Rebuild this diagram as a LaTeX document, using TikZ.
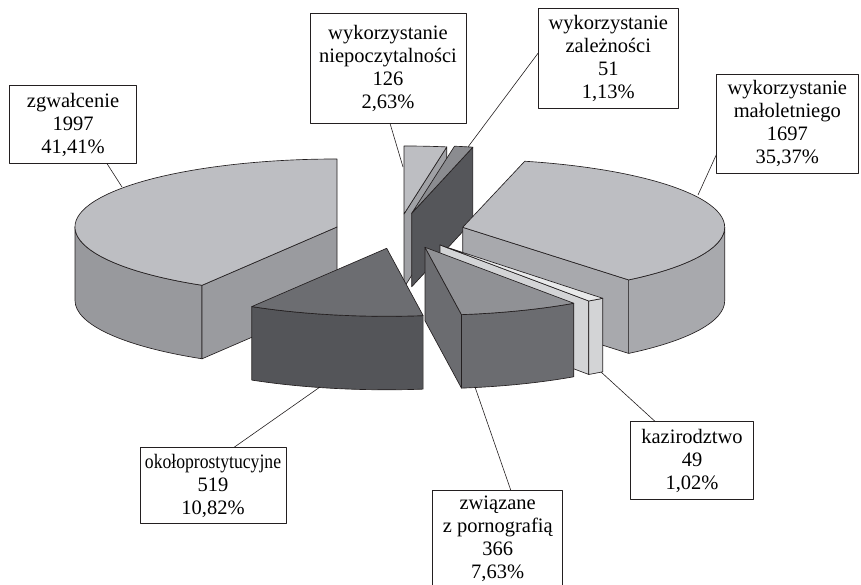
\documentclass[tikz,border=0pt]{standalone}
\usepackage{fontspec}
\setmainfont{Liberation Serif}
\usetikzlibrary{calc}
\definecolor{edge}{HTML}{231F20}
\definecolor{lightT}{HTML}{BDBEC2}
\definecolor{zgwS}{HTML}{98999D}
\definecolor{zgwR}{HTML}{9A9B9F}
\definecolor{malS}{HTML}{A8A9AD}
\definecolor{okoT}{HTML}{6C6D71}
\definecolor{okoS}{HTML}{545559}
\definecolor{pornT}{HTML}{909195}
\definecolor{pornS}{HTML}{6B6C70}
\definecolor{kazT}{HTML}{E8E9EA}
\definecolor{kazS}{HTML}{D3D4D6}
\definecolor{zalT}{HTML}{8B8C90}
\definecolor{zalR}{HTML}{55565A}
\definecolor{niepR}{HTML}{A0A1A5}
\begin{document}
\begin{tikzpicture}[x=1pt,y=1pt,line join=round,
  ea/.style={x radius=262pt,y radius=68pt},
  face/.style={draw=edge,line width=0.65pt},
  lbl/.style={draw=edge,line width=0.65pt,fill=white,align=center,inner sep=0pt,
    font=\fontsize{20.5}{23}\selectfont},
  leader/.style={draw=edge,line width=0.6pt}]
\useasboundingbox (0,0) rectangle (861,585);
% slice centres
\coordinate (N) at (404,371);
\coordinate (Z) at (411.7,371.7);
\coordinate (C2) at (462.7,357.7);
\coordinate (C1) at (337,358);
\coordinate (K) at (440,340);
\coordinate (C4) at (425,337.7);
\coordinate (C3) at (386.7,336.7);
% niepoczytalnosci
\filldraw[face,fill=niepR] (N) -- ($(N)+(80.6:262pt and 68pt)$) -- ++(0,-73.5) -- ($(N)+(0,-73.5)$) -- cycle;
\filldraw[face,fill=lightT] (N) -- ($(N)+(80.6:262pt and 68pt)$) arc[ea,start angle=80.6,end angle=90] -- cycle;
% zaleznosci
\filldraw[face,fill=zalR] (Z) -- ($(Z)+(76.5:262pt and 68pt)$) -- ++(0,-73.5) -- ($(Z)+(0,-73.5)$) -- cycle;
\filldraw[face,fill=zalT] (Z) -- ($(Z)+(76.5:262pt and 68pt)$) arc[ea,start angle=76.5,end angle=80.6] -- cycle;
% maloletniego
\filldraw[face,fill=malS] ($(C2)+(309.3:262pt and 68pt)$) arc[ea,start angle=309.3,end angle=360] -- ++(0,-73.5) arc[ea,start angle=360,end angle=309.3] -- cycle;
\filldraw[face,fill=malS] (C2) -- ($(C2)+(309.3:262pt and 68pt)$) -- ++(0,-73.5) -- ($(C2)+(0,-73.5)$) -- cycle;
\filldraw[face,fill=lightT] (C2) -- ($(C2)+(309.3:262pt and 68pt)$) arc[ea,start angle=309.3,end angle=436.3] -- cycle;
% zgwalcenie
\filldraw[face,fill=zgwS] ($(C1)+(180:262pt and 68pt)$) arc[ea,start angle=180,end angle=239] -- ++(0,-73.5) arc[ea,start angle=239,end angle=180] -- cycle;
\filldraw[face,fill=zgwR] (C1) -- ($(C1)+(239:262pt and 68pt)$) -- ++(0,-73.5) -- ($(C1)+(0,-73.5)$) -- cycle;
\filldraw[face,fill=lightT] (C1) -- ($(C1)+(239:262pt and 68pt)$) arc[ea,start angle=239,end angle=90] -- cycle;
% kazirodztwo
\filldraw[face,fill=kazS] (K) -- ($(K)+(304.6:262pt and 68pt)$) -- ++(0,-73.5) -- ($(K)+(0,-73.5)$) -- cycle;
\filldraw[face,fill=kazS] ($(K)+(304.6:262pt and 68pt)$) arc[ea,start angle=304.6,end angle=308.4] -- ++(0,-73.5) arc[ea,start angle=308.4,end angle=304.6] -- cycle;
\filldraw[face,fill=kazT] (K) -- ($(K)+(304.6:262pt and 68pt)$) arc[ea,start angle=304.6,end angle=308.4] -- cycle;
% pornografia
\filldraw[face,fill=pornS] (C4) -- ($(C4)+(278:262pt and 68pt)$) -- ++(0,-73.5) -- ($(C4)+(0,-73.5)$) -- cycle;
\filldraw[face,fill=pornS] ($(C4)+(278:262pt and 68pt)$) arc[ea,start angle=278,end angle=304.6] -- ++(0,-73.5) arc[ea,start angle=304.6,end angle=278] -- cycle;
\filldraw[face,fill=pornT] (C4) -- ($(C4)+(278:262pt and 68pt)$) arc[ea,start angle=278,end angle=304.6] -- cycle;
% okoloprostytucyjne
\filldraw[face,fill=okoS] ($(C3)+(239:262pt and 68pt)$) arc[ea,start angle=239,end angle=278] -- ++(0,-73.5) arc[ea,start angle=278,end angle=239] -- cycle;
\filldraw[face,fill=okoT] (C3) -- ($(C3)+(239:262pt and 68pt)$) arc[ea,start angle=239,end angle=278] -- cycle;
% label anchor points on the pie
\coordinate (pzgw) at (122,398);
\coordinate (pniep) at (403,418);
\coordinate (pzal) at (468,438);
\coordinate (pmal) at (698,390);
\coordinate (pkaz) at (601,213);
\coordinate (pporn) at (475,198);
\coordinate (poko) at (320,198);
% labels
\node[lbl,minimum width=127.4pt,minimum height=77.6pt] (zgw) at (73,460.5) {zgwałcenie\\1997\\41,41\%};
\node[lbl,minimum width=156pt,minimum height=110pt] (niep) at (388,517) {wykorzystanie\\niepoczytalności\\126\\2,63\%};
\node[lbl,minimum width=140pt,minimum height=100pt] (zal) at (608.3,526.7) {wykorzystanie\\zależności\\51\\1,13\%};
\node[lbl,minimum width=141.3pt,minimum height=99.3pt] (mal) at (787.3,461.3) {wykorzystanie\\małoletniego\\1697\\35,37\%};
\node[lbl,minimum width=122.6pt,minimum height=77.6pt] (kaz) at (692,124.5) {kazirodztwo\\49\\1,02\%};
\node[lbl,minimum width=130pt,minimum height=97pt,anchor=north] (porn) at (497.7,95) {związane\\ z pornografią\\366\\7,63\%};
\node[lbl,minimum width=146pt,minimum height=75.6pt] (oko) at (213,99.5) {\scalebox{0.86}[1]{okołoprostytucyjne}\\519\\10,82\%};
% leaders
\draw[leader] ([xshift=34pt]zgw.south) -- (pzgw);
\draw[leader] ([xshift=2pt]niep.south) -- (pniep);
\draw[leader] ([yshift=5pt]zal.west) -- (pzal);
\draw[leader] ([yshift=-31pt]mal.west) -- (pmal);
\draw[leader] ([xshift=-37pt]kaz.north) -- (pkaz);
\draw[leader] ([xshift=13pt]porn.north) -- (pporn);
\draw[leader] ([xshift=21pt]oko.north) -- (poko);
\end{tikzpicture}
\end{document}
